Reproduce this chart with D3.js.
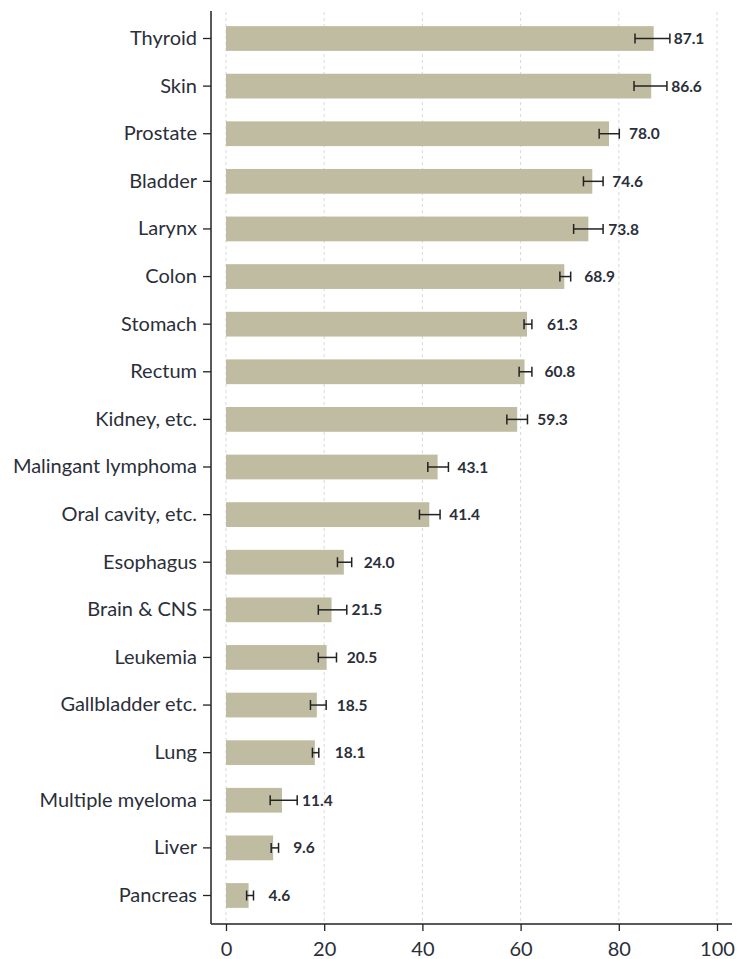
<!DOCTYPE html>
<html>
<head>
<meta charset="utf-8">
<script src="https://cdn.jsdelivr.net/npm/d3@7"></script>
<style>
  html, body { margin: 0; padding: 0; background: #ffffff; }
  svg { display: block; }
</style>
</head>
<body>
<svg id="chart" width="742" height="959"></svg>
<script>
const categories = ["Thyroid", "Skin", "Prostate", "Bladder", "Larynx", "Colon", "Stomach", "Rectum",
  "Kidney, etc.", "Malingant lymphoma", "Oral cavity, etc.", "Esophagus", "Brain & CNS", "Leukemia",
  "Gallbladder etc.", "Lung", "Multiple myeloma", "Liver", "Pancreas"];
const values = [87.1, 86.6, 78.0, 74.6, 73.8, 68.9, 61.3, 60.8, 59.3, 43.1, 41.4, 24.0, 21.5, 20.5, 18.5, 18.1, 11.4, 9.6, 4.6];
const ciLower = [83.3, 83.1, 76.0, 72.8, 70.8, 68.0, 60.7, 59.7, 57.2, 41.1, 39.4, 22.7, 18.8, 18.8, 17.2, 17.6, 9.0, 9.2, 4.2];
const ciUpper = [90.4, 89.8, 80.1, 76.8, 76.8, 70.2, 62.3, 62.3, 61.4, 45.3, 43.6, 25.6, 24.6, 22.5, 20.4, 18.9, 14.5, 10.7, 5.6];
const xTicks = [0, 20, 40, 60, 80, 100];

const data = categories.map((c, i) => ({ cat: c, v: values[i], lo: ciLower[i], hi: ciUpper[i] }));

const svg = d3.select("#chart");
const textColor = "#2b2f3a";
const font = "Lato, 'Open Sans', sans-serif";

const x = d3.scaleLinear().domain([0, 100]).range([226, 717]);
const y = d3.scaleBand().domain(categories).range([14.7, 919.3]).paddingInner(0.48).paddingOuter(0.24);

const axisX = 211, axisY = 924;

// gridlines
svg.append("g").selectAll("line").data(xTicks).join("line")
  .attr("x1", d => x(d)).attr("x2", d => x(d))
  .attr("y1", 12).attr("y2", axisY)
  .attr("stroke", "#d9d9d9").attr("stroke-width", 1).attr("stroke-dasharray", "3,3");

// bars
svg.append("g").selectAll("rect").data(data).join("rect")
  .attr("x", x(0)).attr("y", d => y(d.cat))
  .attr("width", d => x(d.v) - x(0)).attr("height", y.bandwidth())
  .attr("fill", "#c0bca2");

// error bars
const eb = svg.append("g").attr("stroke", "#222").attr("stroke-width", 1.5);
data.forEach(d => {
  const cy = y(d.cat) + y.bandwidth() / 2;
  eb.append("line").attr("x1", x(d.lo)).attr("x2", x(d.hi)).attr("y1", cy).attr("y2", cy);
  eb.append("line").attr("x1", x(d.lo)).attr("x2", x(d.lo)).attr("y1", cy - 5).attr("y2", cy + 5);
  eb.append("line").attr("x1", x(d.hi)).attr("x2", x(d.hi)).attr("y1", cy - 5).attr("y2", cy + 5);
});

// value labels
svg.append("g").selectAll("text").data(data).join("text")
  .attr("x", d => x(d.v) + 20).attr("y", d => y(d.cat) + y.bandwidth() / 2)
  .attr("dy", "0.36em")
  .attr("font-family", font).attr("font-size", 15.5).attr("font-weight", "bold")
  .attr("fill", textColor)
  .text(d => d.v.toFixed(1));

// y axis
const gy = svg.append("g").attr("transform", `translate(${axisX},0)`)
  .call(d3.axisLeft(y).tickSize(8).tickPadding(6));
gy.select(".domain").remove();
gy.selectAll(".tick line").attr("stroke", "#222").attr("stroke-width", 1.3);
gy.selectAll(".tick text").attr("font-family", font).attr("font-size", 20).attr("fill", textColor);
svg.append("line").attr("x1", axisX).attr("x2", axisX).attr("y1", 11).attr("y2", axisY)
  .attr("stroke", "#222").attr("stroke-width", 1.5);

// x axis
const gx = svg.append("g").attr("transform", `translate(0,${axisY})`)
  .call(d3.axisBottom(x).tickValues(xTicks).tickSize(7).tickPadding(11).tickFormat(d3.format("d")));
gx.select(".domain").remove();
gx.selectAll(".tick line").attr("stroke", "#222").attr("stroke-width", 1.3);
gx.selectAll(".tick text").attr("font-family", font).attr("font-size", 20).attr("fill", textColor);
svg.append("line").attr("x1", axisX).attr("x2", 732).attr("y1", axisY).attr("y2", axisY)
  .attr("stroke", "#222").attr("stroke-width", 1.5);
</script>
</body>
</html>
